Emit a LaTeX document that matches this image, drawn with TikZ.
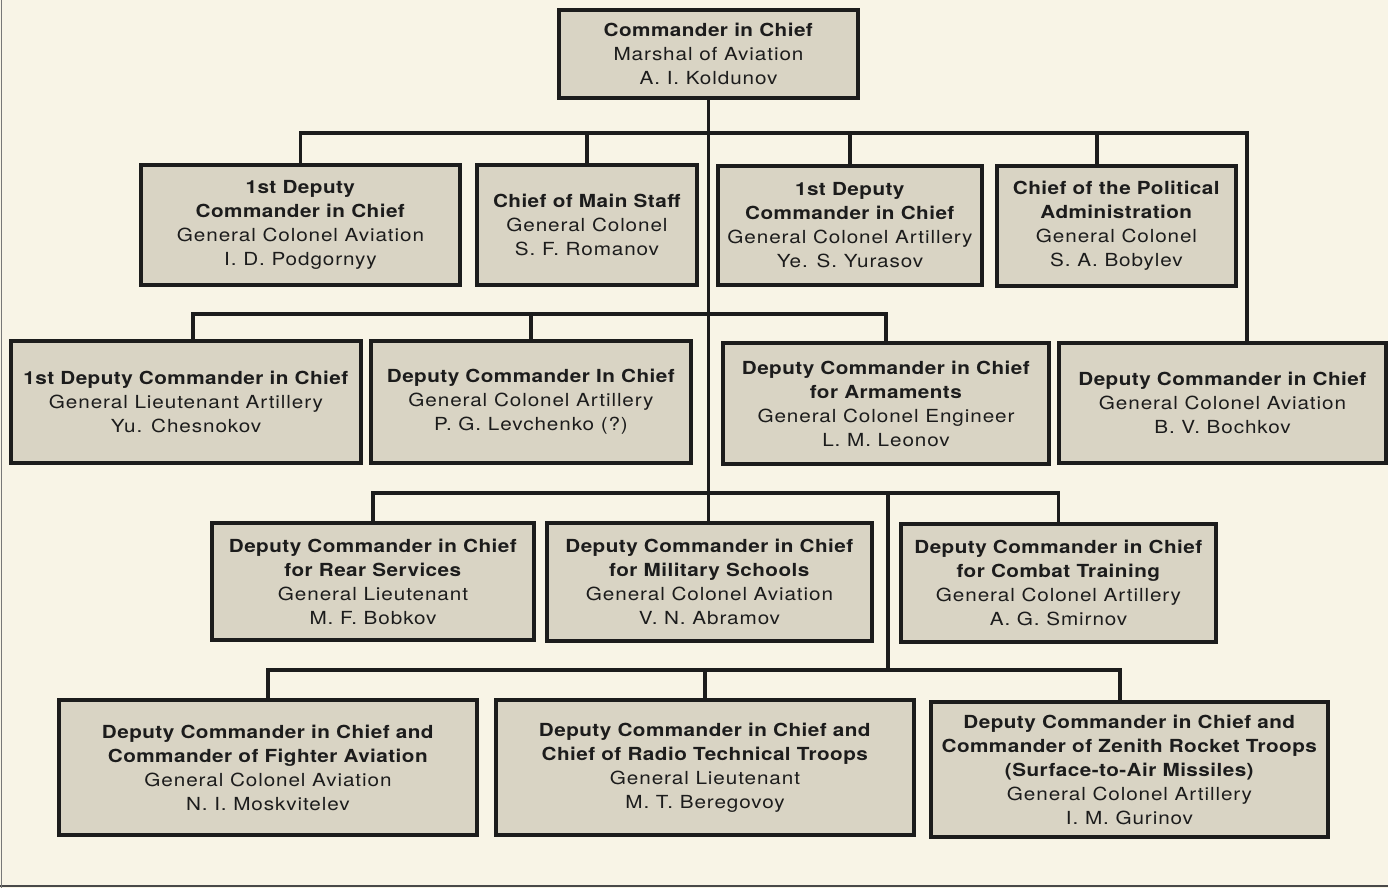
\documentclass[tikz,border=0pt]{standalone}
\usepackage{fontspec}
\setmainfont{TeX Gyre Heros}[FakeStretch=1.15, LetterSpace=5, BoldFeatures={LetterSpace=2.5}]
\definecolor{bg}{HTML}{F8F4E6}
\definecolor{boxfill}{HTML}{D9D4C4}
\definecolor{ink}{HTML}{1C1C1C}
\tikzset{
  orgbox/.style={draw=ink, fill=boxfill, line width=3.5pt, inner sep=0pt,
    align=center, text=ink, font=\fontsize{18}{24}\selectfont},
  conn/.style={draw=ink, line width=3.2pt, line join=miter},
}
% \orgnode{name}{cx}{cy}{w}{h}{text}
\newcommand\orgnode[6]{\node[orgbox, minimum width=#4pt, minimum height=#5pt] (#1) at (#2,#3) {#6};}
\begin{document}
\begin{tikzpicture}[x=1pt,y=-1pt]
\useasboundingbox (0,0) rectangle (1388,888);
\fill[bg] (0,0) rectangle (1388,888);
\draw[ink!80, line width=2pt] (0,886) -- (1388,886);
\draw[ink!60, line width=1pt] (1,0) -- (1,888);

% boxes
\orgnode{cinc}{708.5}{54}{299}{88}{\textbf{Commander in Chief}\\Marshal of Aviation\\A. I. Koldunov}
\orgnode{podg}{300.5}{225}{319}{120}{\textbf{1st Deputy}\\\textbf{Commander in Chief}\\General Colonel Aviation\\I. D. Podgornyy}
\orgnode{roman}{587}{225}{220}{120}{\textbf{Chief of Main Staff}\\General Colonel\\S. F. Romanov}
\orgnode{yuras}{850}{225.5}{264}{119}{\textbf{1st Deputy}\\\textbf{Commander in Chief}\\General Colonel Artillery\\Ye. S. Yurasov}
\orgnode{bobyl}{1116.5}{226}{239}{120}{\textbf{Chief of the Political}\\\textbf{Administration}\\General Colonel\\S. A. Bobylev}
\orgnode{chesn}{186}{402}{350}{122}{\textbf{1st Deputy Commander in Chief}\\General Lieutenant Artillery\\Yu. Chesnokov}
\orgnode{levch}{531}{402}{320}{122}{\textbf{Deputy Commander In Chief}\\General Colonel Artillery\\P. G. Levchenko (?)}
\orgnode{leonov}{886}{403.5}{326}{121}{\textbf{Deputy Commander in Chief}\\\textbf{for Armaments}\\General Colonel Engineer\\L. M. Leonov}
\orgnode{bochk}{1222.5}{403}{327}{120}{\textbf{Deputy Commander in Chief}\\General Colonel Aviation\\B. V. Bochkov}
\orgnode{bobkov}{373}{581.5}{322}{117}{\textbf{Deputy Commander in Chief}\\\textbf{for Rear Services}\\General Lieutenant\\M. F. Bobkov}
\orgnode{abram}{709.5}{582}{325}{118}{\textbf{Deputy Commander in Chief}\\\textbf{for Military Schools}\\General Colonel Aviation\\V. N. Abramov}
\orgnode{smirn}{1058.5}{583}{315}{118}{\textbf{Deputy Commander in Chief}\\\textbf{for Combat Training}\\General Colonel Artillery\\A. G. Smirnov}
\orgnode{mosk}{268}{767.5}{418}{135}{\textbf{Deputy Commander in Chief and}\\\textbf{Commander of Fighter Aviation}\\General Colonel Aviation\\N. I. Moskvitelev}
\orgnode{bereg}{705}{767.5}{418}{135}{\textbf{Deputy Commander in Chief and}\\\textbf{Chief of Radio Technical Troops}\\General Lieutenant\\M. T. Beregovoy}
\orgnode{gurin}{1129.5}{769.5}{397}{135}{\textbf{Deputy Commander in Chief and}\\\textbf{Commander of Zenith Rocket Troops}\\\textbf{(Surface-to-Air Missiles)}\\General Colonel Artillery\\I. M. Gurinov}

% bus levels and offset drop points
\coordinate (bus1) at (0,133);
\coordinate (bus2) at (0,314);
\coordinate (bus3) at (0,493);
\coordinate (bus4) at (0,670);
\coordinate (tap) at (888,0);
\coordinate (bochtop) at ([xshift=24.5pt]bochk.north);
\coordinate (bobyltop) at ([xshift=-19.5pt]bobyl.north);
\coordinate (chestop) at ([xshift=7pt]chesn.north);
\coordinate (gurtop) at ([xshift=-9.5pt]gurin.north);

% trunk
\draw[conn] (cinc.south) -- (cinc.south |- abram.north);
% level 1
\draw[conn] (podg.north) -- (podg.north |- bus1) -- (bochtop |- bus1) -- (bochtop);
\draw[conn] (roman.north) -- (roman.north |- bus1);
\draw[conn] (yuras.north) -- (yuras.north |- bus1);
\draw[conn] (bobyltop) -- (bobyltop |- bus1);
% level 2
\draw[conn] (chestop) -- (chestop |- bus2) -- (leonov.north |- bus2) -- (leonov.north);
\draw[conn] (levch.north) -- (levch.north |- bus2);
% level 3
\draw[conn] (bobkov.north) -- (bobkov.north |- bus3) -- (smirn.north |- bus3) -- (smirn.north);
\draw[conn] (tap |- bus3) -- (tap |- bus4);
% level 4
\draw[conn] (mosk.north) -- (mosk.north |- bus4) -- (gurtop |- bus4) -- (gurtop);
\draw[conn] (bereg.north) -- (bereg.north |- bus4);
\end{tikzpicture}
\end{document}
